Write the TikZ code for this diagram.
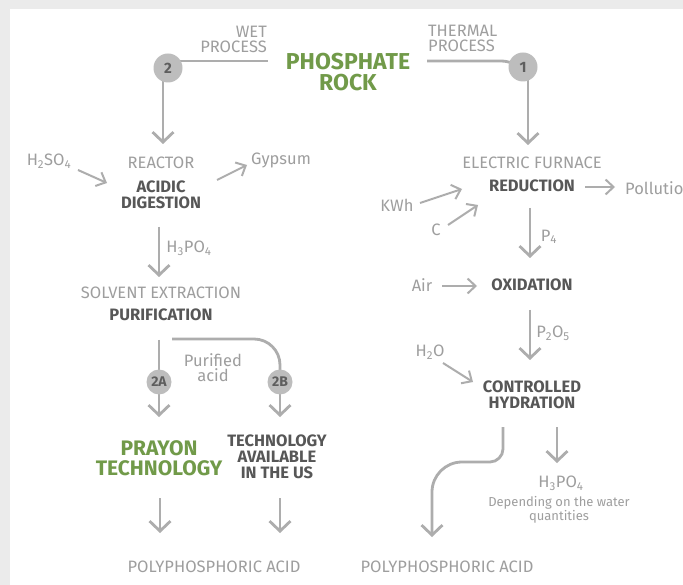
\documentclass[tikz,border=0pt]{standalone}
\usepackage{fontspec}
\setmainfont{Fira Sans}
\usetikzlibrary{arrows.meta}
\definecolor{bgg}{HTML}{EBEBEB}
\definecolor{ltxt}{HTML}{9E9E9E}
\definecolor{dtxt}{HTML}{575757}
\definecolor{grn}{HTML}{719A49}
\definecolor{agray}{HTML}{ADADAD}
\definecolor{cgray}{HTML}{BDBDBD}
\definecolor{ctxt}{HTML}{5E5E5E}
\pgfdeclarelayer{bg}
\pgfsetlayers{bg,main}
\tikzset{
  lt/.style={text=ltxt, inner sep=0pt, align=center, font=\fontsize{16.5}{15}\selectfont},
  ltsmall/.style={text=ltxt, inner sep=0pt, align=center, font=\fontsize{13}{14}\selectfont},
  bd/.style={text=dtxt, inner sep=0pt, align=center, font=\bfseries\fontsize{16.5}{16}\selectfont},
  gr/.style={text=grn, inner sep=0pt, align=center, font=\bfseries\fontsize{23}{21}\selectfont},
  num/.style={circle, fill=cgray, minimum size=29pt, inner sep=0pt, text=ctxt, font=\bfseries\fontsize{15}{15}\selectfont},
  numsmall/.style={num, minimum size=25pt, font=\bfseries\fontsize{14}{14}\selectfont},
  ln/.style={draw=agray, line width=2.8pt},
  arr/.style={ln, -{Straight Barb[length=10pt,width=21pt,line width=2.8pt]}},
  sarr/.style={draw=agray, line width=2pt, -{Straight Barb[length=8pt,width=15pt,line width=2pt]}}
}
\begin{document}
\begin{tikzpicture}[x=1pt,y=-1pt]
\useasboundingbox (0,0) rectangle (683,585);
\begin{pgfonlayer}{bg}
\fill[bgg] (0,0) rectangle (683,585);
\fill[white] (10,9) rectangle (683,585);
\end{pgfonlayer}
% top
\node[lt, align=right, anchor=east] (wet) at (267,39) {WET\\PROCESS};
\node[lt, align=left, anchor=west] (thermal) at (428,38) {THERMAL\\PROCESS};
\node[gr] (rock) at (348,72) {PHOSPHATE\\ROCK};
\node[num] (c2) at (168,68) {2};
\node[num] (c1) at (523,67) {1};
\coordinate (w1) at (268,61);
\coordinate (t1) at (427,61);
\coordinate (r0) at (163,144);
\coordinate (e0) at (528,145);
% left column
\node[lt] (reactor) at (161,163) {REACTOR};
\node[bd] (acid) at (161,194.5) {ACIDIC\\DIGESTION};
\node[lt] (h2so4) at (49,161) {H\textsubscript{2}SO\textsubscript{4}};
\node[lt] (gyp) at (281,160) {Gypsum};
\coordinate (hs1) at (78,170); \coordinate (hs2) at (107,183);
\coordinate (gy1) at (217,180); \coordinate (gy2) at (247,165);
\coordinate (hp1) at (159,227); \coordinate (hp2) at (159,277);
\node[lt] (h3po4a) at (189,248) {H\textsubscript{3}PO\textsubscript{4}};
\node[lt] (solv) at (161,293) {SOLVENT EXTRACTION};
\node[bd] (pur) at (161,315) {PURIFICATION};
\node[numsmall] (c2a) at (159,382) {2A};
\node[numsmall] (c2b) at (280,382) {2B};
\coordinate (pa1) at (159,340); \coordinate (pa2) at (159,417);
\coordinate (pb0) at (172,339); \coordinate (pb2) at (280,417);
\node[lt] (purac) at (213,367.5) {Purified\\acid};
\node[gr, font=\bfseries\fontsize{21}{20}\selectfont] (prayon) at (159,458) {PRAYON\\TECHNOLOGY};
\node[bd] (techus) at (277,457) {TECHNOLOGY\\AVAILABLE\\IN THE US};
\coordinate (pl1) at (160,498); \coordinate (pl2) at (160,533);
\coordinate (pr1) at (280,498); \coordinate (pr2) at (280,533);
\node[lt] (poly1) at (214,567) {POLYPHOSPHORIC ACID};
% right column
\node[lt] (furn) at (532,163) {ELECTRIC FURNACE};
\node[bd] (red) at (532,186) {REDUCTION};
\coordinate (po1) at (585,187); \coordinate (po2) at (615,187);
\node[lt, anchor=west] (poll) at (625,188) {Pollution};
\node[lt] (kwh) at (397,205) {KWh};
\coordinate (kw1) at (420,203); \coordinate (kw2) at (462,189);
\node[lt] (cc) at (436,230) {C};
\coordinate (cc1) at (448,225); \coordinate (cc2) at (478,205);
\coordinate (p41) at (530,208); \coordinate (p42) at (530,258);
\node[lt] (p4) at (549,237) {P\textsubscript{4}};
\node[lt] (air) at (422,285) {Air};
\coordinate (ai1) at (442,286); \coordinate (ai2) at (477,286);
\node[bd] (oxi) at (532,285) {OXIDATION};
\coordinate (p51) at (530,310); \coordinate (p52) at (530,360);
\node[lt] (p2o5) at (553,333) {P\textsubscript{2}O\textsubscript{5}};
\node[lt] (h2o) at (430,352) {H\textsubscript{2}O};
\coordinate (ho1) at (443,363); \coordinate (ho2) at (473,382);
\node[bd] (hyd) at (532,395) {CONTROLLED\\HYDRATION};
\coordinate (cv1) at (503,427); \coordinate (cv2) at (432,537);
\coordinate (hb1) at (557,427); \coordinate (hb2) at (557,463);
\node[lt] (h3po4b) at (561,483) {H\textsubscript{3}PO\textsubscript{4}};
\node[ltsmall] (dep) at (559,510) {Depending on the water\\quantities};
\node[lt] (poly2) at (447,567) {POLYPHOSPHORIC ACID};
% connectors
\begin{pgfonlayer}{bg}
\draw[ln] (c2.center |- w1) -- (w1);
\draw[ln] (t1) -- (500,61) to[out=0,in=160] (c1.center);
\draw[arr] (r0 |- c2.center) -- (r0);
\draw[arr] (e0 |- c1.center) -- (e0);
\draw[ln] (pa1) -- (c2a.center);
\draw[arr] (c2a.center) -- (pa2);
\draw[ln, rounded corners=26pt] (pb0) -| (c2b.center);
\draw[arr] (c2b.center) -- (pb2);
\end{pgfonlayer}
\draw[sarr] (hs1) -- (hs2);
\draw[sarr] (gy1) -- (gy2);
\draw[arr] (hp1) -- (hp2);
\draw[arr] (pl1) -- (pl2);
\draw[arr] (pr1) -- (pr2);
\draw[sarr] (po1) -- (po2);
\draw[sarr] (kw1) -- (kw2);
\draw[sarr] (cc1) -- (cc2);
\draw[arr] (p41) -- (p42);
\draw[sarr] (ai1) -- (ai2);
\draw[arr] (p51) -- (p52);
\draw[sarr] (ho1) -- (ho2);
\draw[arr] (cv1) -- (503,449) .. controls (503,456) and (497,462) .. (490,462) -- (462,462) .. controls (445.5,462) and (432,475.5) .. (432,492) -- (cv2);
\draw[arr] (hb1) -- (hb2);
\end{tikzpicture}
\end{document}
